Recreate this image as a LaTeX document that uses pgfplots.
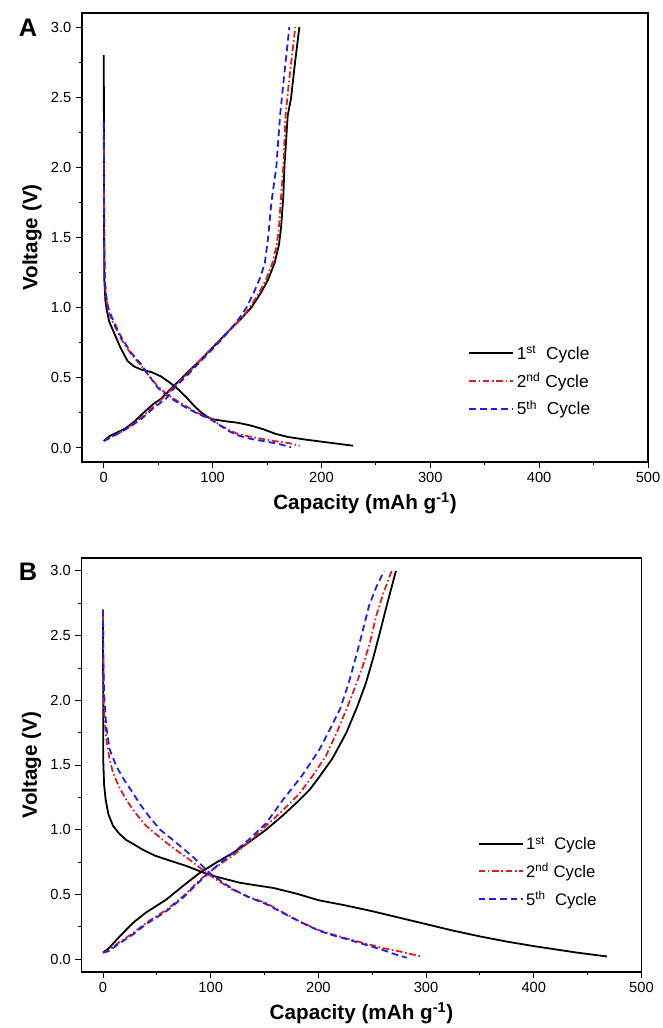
\documentclass[border=0pt]{standalone}
\usepackage{fontspec}
\setmainfont{Liberation Sans}
\usepackage{pgfplots}
\pgfplotsset{compat=1.18}
\definecolor{cycred}{RGB}{222,30,30}
\definecolor{cycblue}{RGB}{30,30,240}

\pgfplotsset{
  cycaxis/.style={
    scale only axis,
    anchor=south west,
    xmin=-20, xmax=500,
    ymin=-0.1, ymax=3.1,
    xtick distance=100, minor x tick num=1,
    ytick distance=0.5, minor y tick num=1,
    tick align=outside, tick pos=left,
    major tick length=4.5pt, minor tick length=2.6pt,
    axis line style={black, line width=0.8pt},
    tick style={black, line width=0.7pt},
    /pgf/number format/assume math mode=true,
    yticklabel style={/pgf/number format/fixed, /pgf/number format/fixed zerofill, /pgf/number format/precision=1},
    ticklabel style={font=\fontsize{11}{13}\selectfont},
    xlabel={\textbf{Capacity (mAh g\textsuperscript{-1})}},
    ylabel={\textbf{Voltage (V)}},
    label style={font=\fontsize{15.5}{18}\selectfont},
    legend cell align=left,
    legend image code/.code={\draw[##1] (0pt,0pt) -- (33pt,0pt);},
    legend style={draw=none, fill=none, inner sep=0pt, row sep=4.5pt,
      font=\fontsize{13}{15}\selectfont, anchor=west},
  },
  s1/.style={black, line width=1.35pt},
  s2/.style={cycred, line width=1.35pt, dash pattern=on 5pt off 2pt on 1.2pt off 2pt},
  s5/.style={cycblue, line width=1.35pt, dash pattern=on 5pt off 3pt},
}

\begin{document}
\begin{tikzpicture}
\useasboundingbox (0,0) rectangle (496.5pt,771pt);

% panel A
\begin{axis}[cycaxis, at={(61.5pt,424.5pt)}, width=424.5pt, height=336.75pt,
  legend style={at={(0.682,0.18)}}]
\addplot[s1] coordinates {
 (0,2.80) (0.1,2.5) (0.2,2.0) (0.3,1.5) (0.5,1.2) (1.5,1.05) (2.8,0.98) (5,0.90)
 (9.5,0.82) (15,0.72) (21.8,0.62) (28,0.58) (34,0.56) (44,0.54) (52.5,0.51) (60,0.47)
 (68,0.42) (76,0.36) (83,0.30) (90,0.25) (95.6,0.22) (100,0.205) (112,0.19) (123,0.18)
 (135,0.16) (146,0.135) (158,0.10) (169.5,0.078) (185,0.06) (200,0.045) (215,0.03) (229,0.016)};
\addlegendentry{1\textsuperscript{st}\ \ Cycle}
\addplot[s2] coordinates {
 (0,2.32) (0.2,2.0) (0.4,1.5) (1,1.2) (2,1.08) (4,0.98) (8,0.90) (15.7,0.78)
 (25,0.67) (34,0.59) (42,0.51) (49.5,0.44) (57,0.39) (64.5,0.35) (75,0.30) (86,0.25)
 (98.6,0.21) (107,0.16) (115,0.13) (123,0.10) (135,0.08) (146,0.064) (160,0.045) (170,0.035) (180,0.015)};
\addlegendentry{2\textsuperscript{nd} Cycle}
\addplot[s5] coordinates {
 (0,2.32) (0.2,2.0) (0.4,1.5) (1,1.2) (2,1.1) (4,1.0) (8,0.92) (16,0.79)
 (25,0.68) (34,0.60) (42,0.51) (49.5,0.43) (57,0.38) (64.5,0.34) (75,0.29) (86,0.245)
 (98,0.205) (107,0.16) (115,0.12) (123,0.09) (135,0.065) (146,0.05) (160,0.03) (172,0.005)};
\addlegendentry{5\textsuperscript{th}\ \ Cycle}
\addplot[s1, forget plot] coordinates {
 (0,0.05) (3,0.07) (6.5,0.09) (15,0.12) (20,0.14) (27.6,0.185) (35,0.24) (45,0.31)
 (52.5,0.35) (60,0.41) (68,0.47) (77,0.54) (88,0.62) (98,0.70) (108,0.78) (118,0.86)
 (126,0.92) (135.5,1.00) (144.7,1.11) (151,1.20) (157,1.32) (161,1.45) (163,1.58) (165,1.80)
 (166,2.01) (169,2.37) (172,2.49) (175,2.70) (179.7,3.0)};
\addplot[s2, forget plot] coordinates {
 (0,0.05) (5,0.07) (15,0.11) (25,0.16) (35,0.22) (45,0.29) (55,0.36) (65,0.44)
 (77,0.53) (88,0.62) (98,0.70) (108,0.78) (118,0.86) (126,0.92) (134,1.00) (143,1.11)
 (149,1.20) (155,1.32) (159,1.45) (161,1.58) (163,1.80) (165,2.01) (167,2.37) (170,2.6) (176,3.0)};
\addplot[s5, forget plot] coordinates {
 (0,0.05) (5,0.07) (15,0.11) (25,0.155) (35,0.21) (45,0.28) (57,0.35) (65,0.43)
 (77,0.52) (88,0.61) (98,0.69) (108,0.77) (118,0.86) (125,0.93) (131,1.00) (138,1.11)
 (144,1.22) (148,1.32) (151,1.50) (154,1.75) (158.5,2.0) (162,2.37) (165,2.6) (170.5,3.0)};
\end{axis}

% panel B
\begin{axis}[cycaxis, at={(61.1pt,42pt)}, width=420pt, height=310.5pt,
  legend style={at={(0.707,0.242)}, font=\fontsize{12.5}{14.5}\selectfont}]
\addplot[s1] coordinates {
 (0,2.70) (0.1,2.3) (0.2,2.0) (0.3,1.52) (1,1.35) (2.5,1.23) (5,1.12) (9.3,1.03)
 (15,0.97) (21.6,0.92) (30,0.88) (37,0.845) (48,0.80) (58.8,0.77) (68,0.745) (77.3,0.72)
 (88,0.685) (99,0.65) (113,0.62) (127,0.59) (142,0.57) (158,0.55) (180,0.505) (200,0.455)
 (225,0.415) (250,0.37) (275,0.32) (300,0.27) (325,0.22) (350,0.175) (375,0.135) (400,0.10)
 (420,0.075) (440,0.05) (468,0.02)};
\addlegendentry{1\textsuperscript{st}\ \ Cycle}
\addplot[s2] coordinates {
 (0,2.65) (0.3,2.3) (0.6,2.0) (1.5,1.85) (3,1.70) (6,1.55) (9.3,1.44) (15,1.33)
 (21.6,1.23) (30,1.13) (40,1.03) (50,0.96) (58.8,0.90) (70,0.83) (80,0.77) (88,0.72)
 (96,0.665) (108,0.60) (120.6,0.536) (135,0.48) (151.5,0.433) (165,0.37) (182.5,0.29) (200,0.225)
 (213,0.19) (228,0.155) (244,0.12) (260,0.085) (275,0.06) (285,0.04) (295.6,0.02)};
\addlegendentry{2\textsuperscript{nd} Cycle}
\addplot[s5] coordinates {
 (0,2.70) (0.3,2.3) (1,2.05) (3,1.80) (6.2,1.62) (12.4,1.49) (20,1.38) (28,1.28)
 (35,1.19) (43,1.10) (53,1.00) (65,0.92) (75,0.85) (83.5,0.79) (91,0.73) (99,0.665)
 (110,0.60) (120.6,0.54) (135,0.48) (151.5,0.425) (165,0.365) (182.5,0.29) (200,0.22) (213,0.185)
 (228,0.15) (244,0.11) (260,0.07) (270,0.04) (282,0.01)};
\addlegendentry{5\textsuperscript{th}\ \ Cycle}
\addplot[s1, forget plot] coordinates {
 (0,0.05) (1.5,0.06) (5,0.08) (15,0.17) (27.8,0.28) (40,0.36) (58.8,0.46) (75,0.57)
 (89.7,0.665) (105,0.745) (120.6,0.82) (135,0.90) (151.5,1.0) (167,1.11) (182.5,1.23) (192,1.31)
 (201,1.41) (213,1.55) (226,1.75) (236,1.95) (244,2.13) (251,2.33) (257,2.52) (264,2.75) (272,3.0)};
\addplot[s2, forget plot] coordinates {
 (0,0.05) (5,0.065) (15,0.13) (27.8,0.2) (40,0.28) (58.8,0.38) (75,0.49) (89.7,0.61)
 (100,0.68) (110,0.74) (120.6,0.80) (135,0.90) (151.5,1.03) (167,1.15) (182.5,1.28) (195,1.42)
 (207,1.57) (217,1.75) (226,1.93) (234,2.10) (241,2.26) (248,2.45) (253.6,2.65) (260,2.82) (268,3.0)};
\addplot[s5, forget plot] coordinates {
 (0,0.05) (5,0.06) (15,0.12) (27.8,0.19) (40,0.27) (58.8,0.37) (75,0.48) (89.7,0.60)
 (100,0.68) (110,0.75) (120.6,0.82) (135,0.92) (151.5,1.05) (167,1.23) (185,1.42) (201,1.62)
 (211,1.78) (220,1.93) (228,2.13) (235,2.34) (241,2.53) (247,2.73) (254,2.88) (261,3.0)};
\end{axis}

\node[font=\bfseries\fontsize{19}{22}\selectfont] at (21pt,750pt) {A};
\node[font=\bfseries\fontsize{19}{22}\selectfont] at (21pt,342pt) {B};
\end{tikzpicture}
\end{document}
